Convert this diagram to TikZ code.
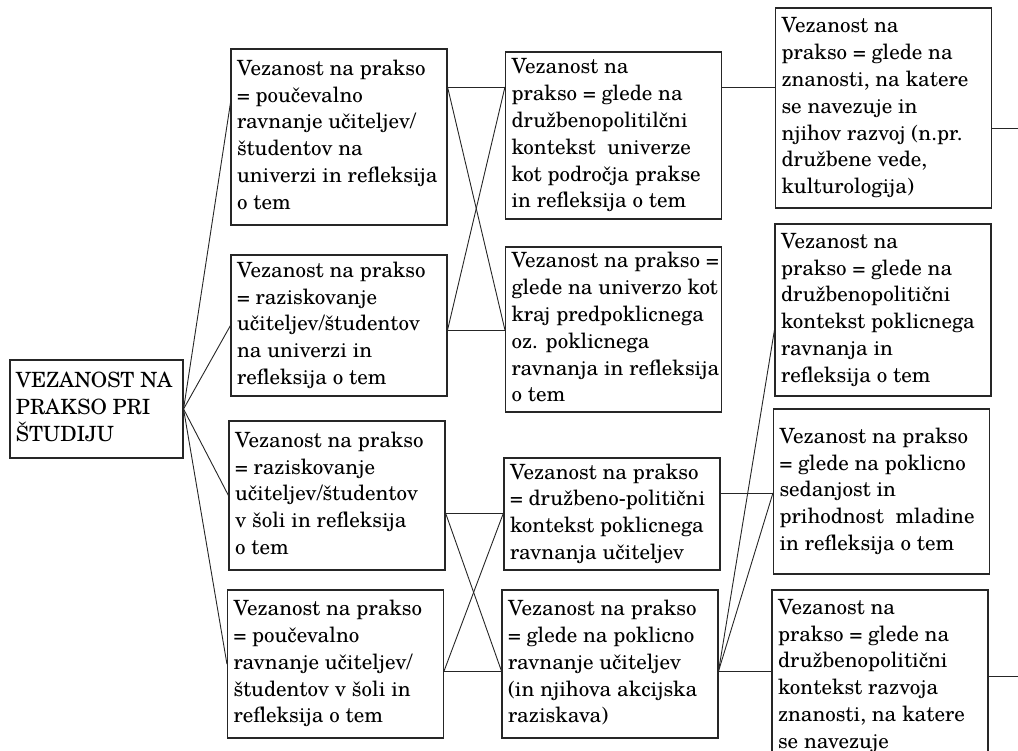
\documentclass[tikz,border=0pt]{standalone}
\usepackage{fontspec}
\setmainfont{TeX Gyre Schola}
\newcommand{\vrstice}[2][204pt]{\makebox[#1][l]{\begin{tabular}{@{}l@{}}#2\end{tabular}}}
\tikzset{
  polje/.style={draw=black!85, line width=1.1pt, rectangle,
    inner xsep=6pt, inner ysep=0pt,
    font=\fontsize{21}{26.8}\selectfont},
  povezava/.style={draw=black!85, line width=0.9pt},
}
\begin{document}
\begin{tikzpicture}[x=1pt,y=-1pt]
  \useasboundingbox (0,0) rectangle (1018,751);
  \draw
    (96.5,409) node[polje, minimum height=98pt] (root)
      {\vrstice[161pt]{VEZANOST NA\\PRAKSO PRI\\ŠTUDIJU}}
    (339,137) node[polje, minimum height=176pt] (b1)
      {\vrstice{Vezanost na prakso\\= poučevalno\\ravnanje učiteljev/\\študentov na\\univerzi in refleksija\\o tem}}
    (339,325.5) node[polje, minimum height=141pt] (b2)
      {\vrstice{Vezanost na prakso\\= raziskovanje\\učiteljev/študentov\\na univerzi in\\refleksija o tem}}
    (337,495.5) node[polje, minimum height=149pt] (b3)
      {\vrstice{Vezanost na prakso\\= raziskovanje\\učiteljev/študentov\\v šoli in refleksija\\o tem}}
    (335.5,664) node[polje, minimum height=148pt] (b4)
      {\vrstice{Vezanost na prakso\\= poučevalno\\ravnanje učiteljev/\\študentov v šoli in\\refleksija o tem}}
    (613.5,135.5) node[polje, minimum height=167pt] (c1)
      {\vrstice{Vezanost na\\prakso = glede na\\družbenopolitilčni\\kontekst\ \ univerze\\kot področja prakse\\in refleksija o tem}}
    (613.5,329.5) node[polje, minimum height=165pt] (c2)
      {\vrstice{Vezanost na prakso =\\glede na univerzo kot\\kraj predpoklicnega\\oz. poklicnega\\ravnanja in refleksija\\o tem}}
    (612,514) node[polje, minimum height=112pt] (c3)
      {\vrstice{Vezanost na prakso\\= družbeno-politični\\kontekst poklicnega\\ravnanja učiteljev}}
    (610,664) node[polje, minimum height=148pt] (c4)
      {\vrstice{Vezanost na prakso\\= glede na poklicno\\ravnanje učiteljev\\(in njihova akcijska\\raziskava)}}
    (883.5,108) node[polje, minimum height=200pt] (d1)
      {\vrstice{Vezanost na\\prakso = glede na\\znanosti, na katere\\se navezuje in\\njihov razvoj (n.pr.\\družbene vede,\\kulturologija)}}
    (883,310) node[polje, minimum height=172pt] (d2)
      {\vrstice{Vezanost na\\prakso = glede na\\družbenopolitični\\kontekst poklicnega\\ravnanja in\\refleksija o tem}}
    (881.5,491.5) node[polje, minimum height=165pt] (d3)
      {\vrstice{Vezanost na prakso\\= glede na poklicno\\sedanjost in\\prihodnost\ \ mladine\\in refleksija o tem}}
    (880,676) node[polje, minimum height=172pt] (d4)
      {\vrstice{Vezanost na\\prakso = glede na\\družbenopolitični\\kontekst razvoja\\znanosti, na katere\\se navezuje}};
  % heights where the connectors meet the boxes
  \coordinate (rt) at (0,103);
  \coordinate (r1) at (0,87);
  \coordinate (r2) at (0,330);
  \coordinate (r3) at (0,513);
  \coordinate (r4) at (0,671);
  \coordinate (r5) at (0,493);
  \coordinate (izhod1) at (1018,128);
  \coordinate (izhod2) at (1018,676);
  \begin{scope}[povezava]
    \draw (root.east) to (b1.west |- rt);
    \draw (root.east) to (b2.west);
    \draw (root.east) to (b3.west);
    \draw (root.east) to (b4.west);
    \draw (b1.east |- r1) to (c1.west |- r1);
    \draw (b1.east |- r1) to (c2.west |- r2);
    \draw (b2.east |- r2) to (c1.west |- r1);
    \draw (b2.east |- r2) to (c2.west |- r2);
    \draw (b3.east |- r3) to (c3.west |- r3);
    \draw (b3.east |- r3) to (c4.west |- r4);
    \draw (b4.east |- r4) to (c3.west |- r3);
    \draw (b4.east |- r4) to (c4.west |- r4);
    \draw (c1.east |- r1) to (d1.west |- r1);
    \draw (c3.east |- r5) to (d3.west |- r5);
    \draw (c4.east |- r4) to (d2.west |- r2);
    \draw (c4.east |- r4) to (d3.west |- r5);
    \draw (c4.east |- r4) to (d4.west |- r4);
    \draw (d1.east |- izhod1) to (izhod1);
    \draw (d4.east |- izhod2) to (izhod2);
  \end{scope}
\end{tikzpicture}
\end{document}
